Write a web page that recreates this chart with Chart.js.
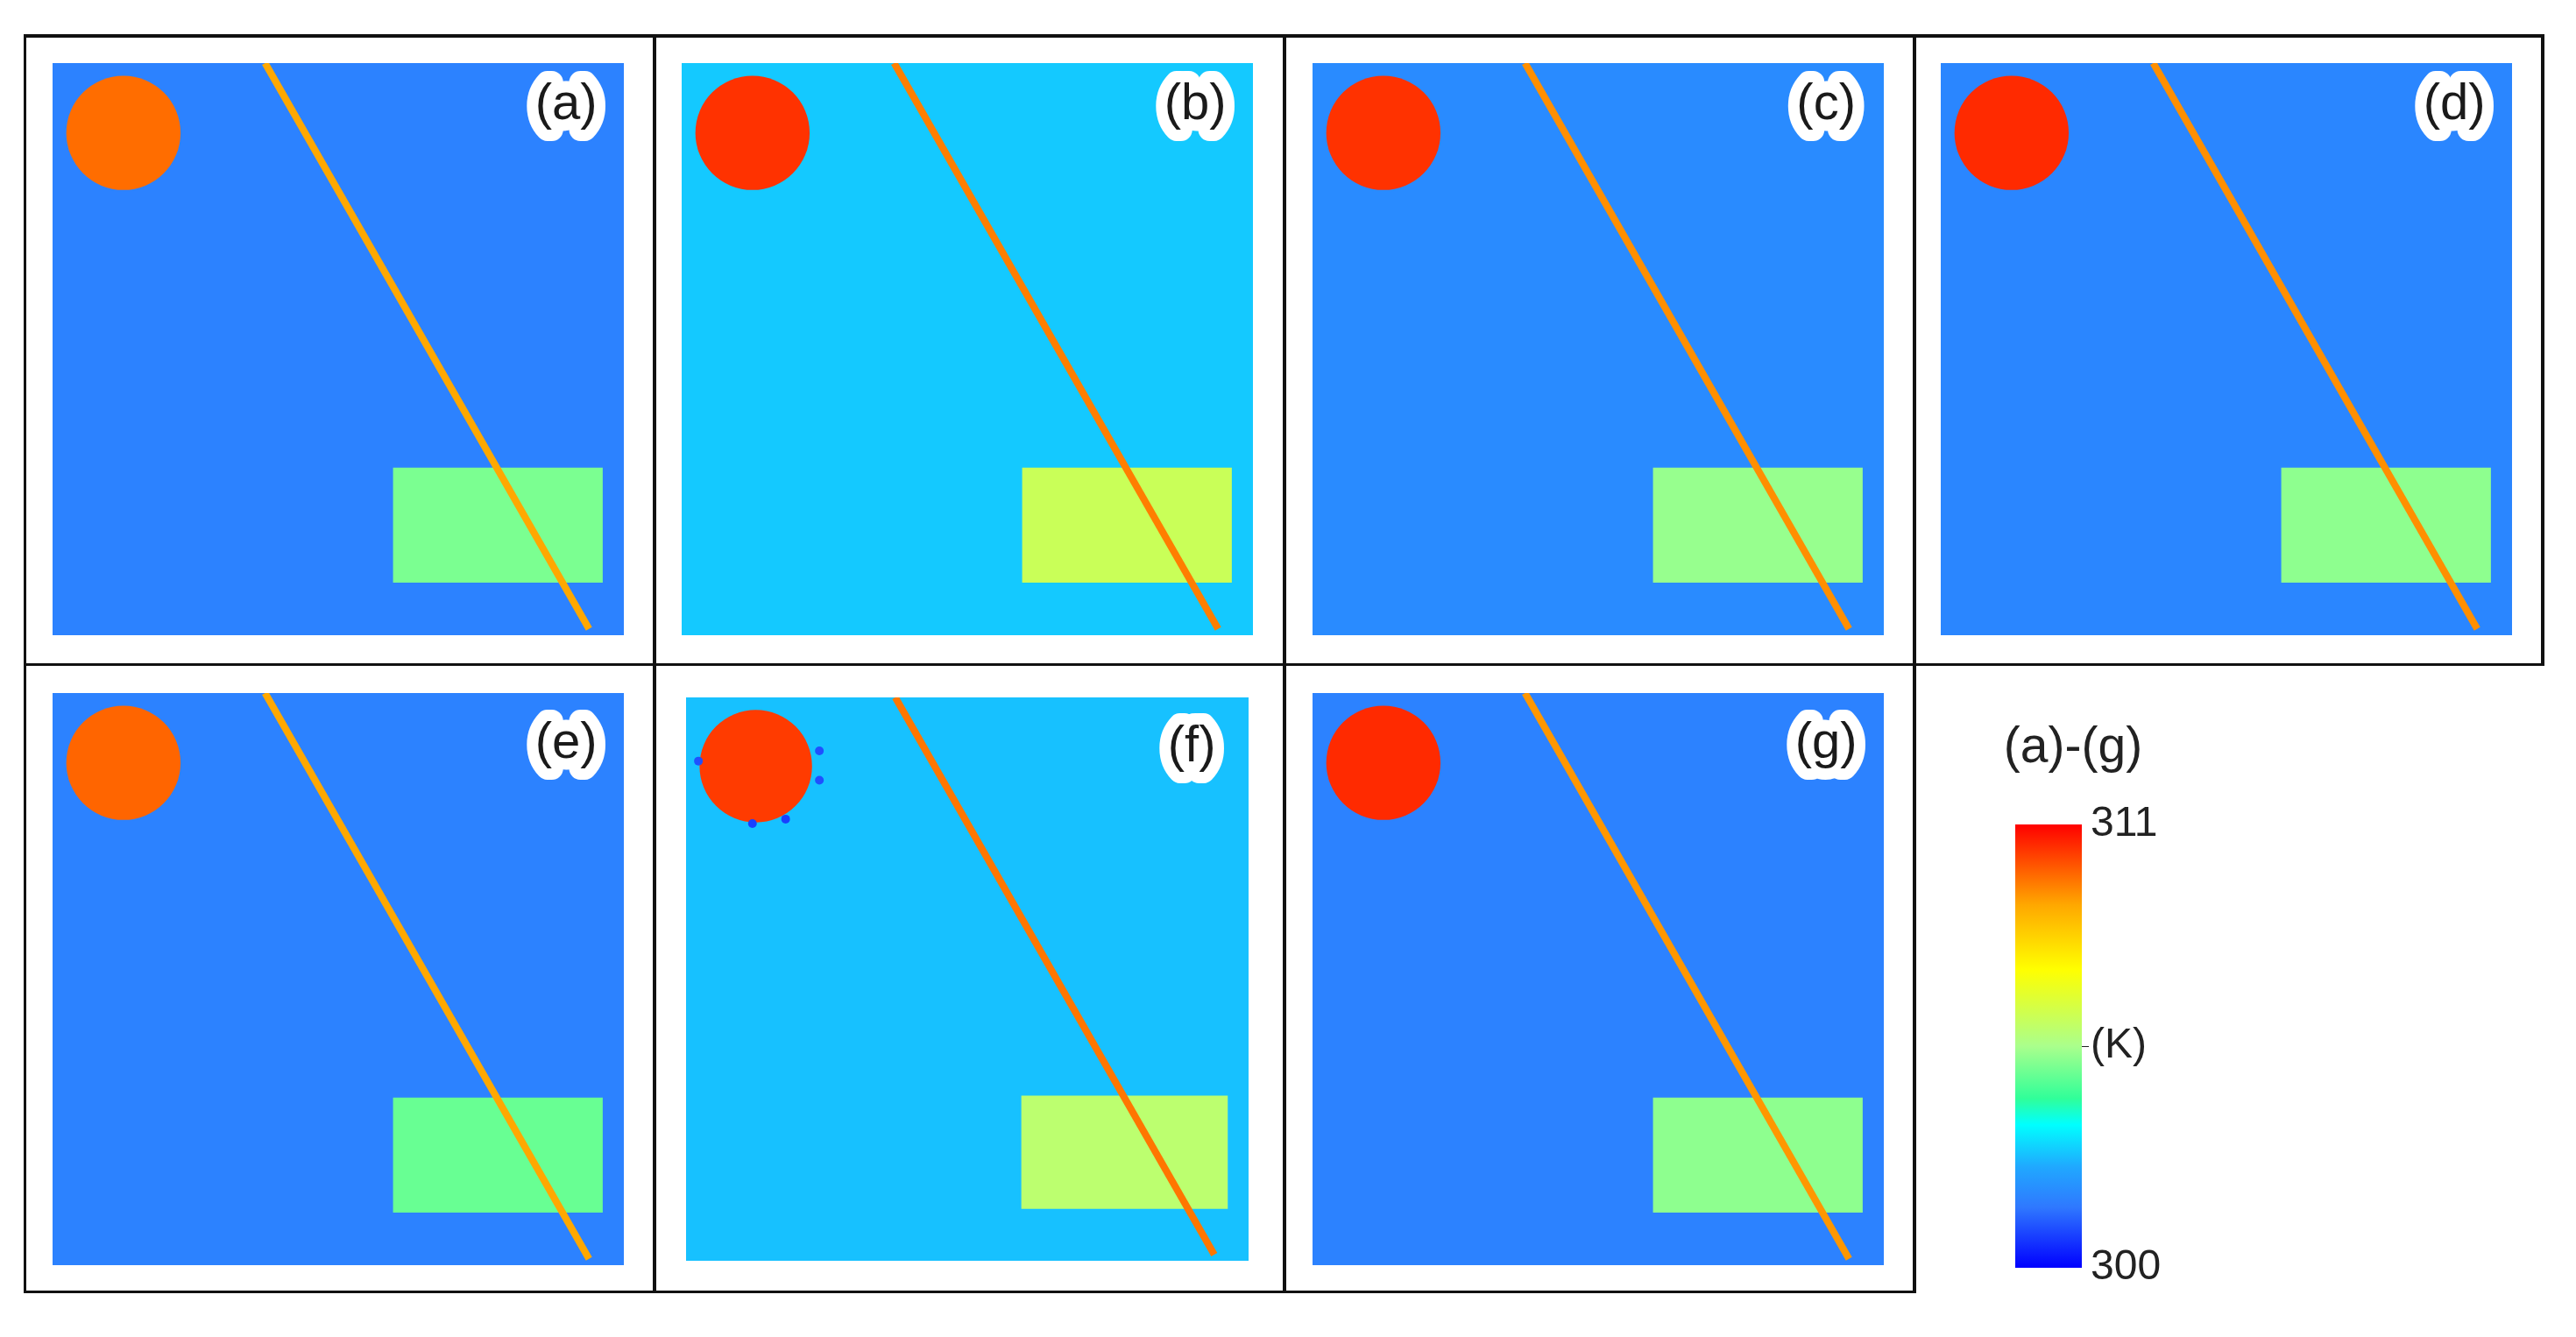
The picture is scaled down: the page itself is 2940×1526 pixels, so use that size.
<!DOCTYPE html>
<html>
<head>
<meta charset="utf-8">
<title>Temperature maps (a)-(g)</title>
<script src="https://cdn.jsdelivr.net/npm/chart.js@4"></script>
<style>
    html, body { margin: 0; background: #fff; }
    body { position: relative; width: 2940px; height: 1526px; overflow: hidden; font-family: "Liberation Sans", Arial, sans-serif; }
    canvas { position: absolute; }
    .rule { position: absolute; background: #111; }
    #cbar-title { position: absolute; left: 2266px; top: 817px; width: 200px; text-align: center; font-size: 57px; line-height: 66px; color: #222; }
</style>
</head>
<body>
<div id="cbar-title">(a)-(g)</div>
<script>
// Values are mean temperatures (K) read per region against the colour bar.
// The pixel speckle of the source maps is not reproduced, it cannot be read value by value.
const panelNames = ['(a)', '(b)', '(c)', '(d)', '(e)', '(f)', '(g)'];
const backgroundK = [301.7, 302.9, 301.9, 301.8, 301.7, 302.8, 301.7];
const rectangleK = [305.0, 306.2, 305.3, 305.2, 304.8, 305.9, 305.2];
const circleK = [309.7, 310.4, 310.4, 310.5, 309.8, 310.3, 310.5];
const stripeK = [309.0, 309.5, 309.3, 309.3, 309.0, 309.6, 309.2];

// shape geometry in percent of the panel, same in every panel
const circleCentre = [12.4, 12.2];
const circleRadius = 10;
const rectangleX = [59.6, 96.3];
const rectangleY = [70.7, 90.8];
const stripeX = [37.2, 93.9];
const stripeY = [0, 98.9];

// dark spots around the circle in panel (f)
const spotX = [11.8, 17.7, 23.7, 23.7, 2.2];
const spotY = [22.4, 21.6, 14.7, 9.5, 11.3];
const spotK = [300.8, 300.8, 301.0, 301.0, 301.0];

// colour bar
const cbarKelvin = [300, 301.5, 302.5, 303.55, 304.2, 305.5, 307.4, 309, 311];
const cbarColors = ['#0000ff', '#2f78ff', '#20a8ff', '#00ffff', '#30ff99', '#aaff8c', '#ffff00', '#ffa800', '#ff0000'];
const cbarTicks = [300, 305.5, 311];
const cbarTickLabels = ['300', '(K)', '311'];

// page layout
const panelLeft = [60, 778, 1498, 2215, 60, 778, 1498];
const panelTop = [72, 72, 72, 72, 791, 791, 791];
const panelWidth = 652;
const panelHeight = 653;
const labelCentreY = [7.4, 7.4, 7.4, 7.4, 8.9, 8.9, 8.9];

function hexToRgb(hex) {
    return [1, 3, 5].map(i => parseInt(hex.slice(i, i + 2), 16));
}

function kelvinToColor(k) {
    let i = 0;
    while (i < cbarKelvin.length - 2 && k > cbarKelvin[i + 1]) i++;
    const f = (k - cbarKelvin[i]) / (cbarKelvin[i + 1] - cbarKelvin[i]);
    const a = hexToRgb(cbarColors[i]);
    const b = hexToRgb(cbarColors[i + 1]);
    return 'rgb(' + a.map((v, n) => Math.round(v + (b[n] - v) * f)).join(',') + ')';
}

function addRule(left, top, width, height) {
    const el = document.createElement('div');
    el.className = 'rule';
    el.style.cssText = `left:${left}px;top:${top}px;width:${width}px;height:${height}px`;
    document.body.appendChild(el);
}

function addCanvas(left, top, width, height) {
    const canvas = document.createElement('canvas');
    canvas.width = width;
    canvas.height = height;
    canvas.style.left = left + 'px';
    canvas.style.top = top + 'px';
    document.body.appendChild(canvas);
    return canvas;
}

// frame lines
addRule(27, 39, 2877, 4);
addRule(27, 757, 2877, 3);
addRule(27, 1473, 2159, 3);
addRule(27, 39, 3, 1437);
addRule(745, 39, 4, 1437);
addRule(1464, 39, 4, 1437);
addRule(2183, 39, 4, 1437);
addRule(2900, 39, 4, 721);

const panelLabelPlugin = {
    id: 'panelLabel',
    afterDatasetsDraw(chart, args, opts) {
        const { ctx, scales } = chart;
        const x = scales.x.getPixelForValue(89.9);
        const y = scales.y.getPixelForValue(opts.y);
        ctx.save();
        ctx.font = '58px "Liberation Sans", Arial, sans-serif';
        ctx.textAlign = 'center';
        ctx.textBaseline = 'middle';
        ctx.lineJoin = 'round';
        ctx.lineWidth = 26;
        ctx.strokeStyle = '#fff';
        ctx.strokeText(opts.text, x, y);
        ctx.fillStyle = '#1a1a1a';
        ctx.fillText(opts.text, x, y);
        ctx.restore();
    }
};

panelNames.forEach((name, i) => {
    const canvas = addCanvas(panelLeft[i], panelTop[i], panelWidth, panelHeight);
    const datasets = [
        {
            data: [{ x: 0, y: 0 }, { x: 100, y: 0 }, { x: 100, y: 100 }, { x: 0, y: 100 }, { x: 0, y: 0 }],
            fill: 'shape', backgroundColor: kelvinToColor(backgroundK[i]), borderWidth: 0, pointRadius: 0, order: 5
        },
        {
            data: [
                { x: rectangleX[0], y: rectangleY[0] }, { x: rectangleX[1], y: rectangleY[0] },
                { x: rectangleX[1], y: rectangleY[1] }, { x: rectangleX[0], y: rectangleY[1] },
                { x: rectangleX[0], y: rectangleY[0] }
            ],
            fill: 'shape', backgroundColor: kelvinToColor(rectangleK[i]), borderWidth: 0, pointRadius: 0, order: 4
        },
        {
            data: [{ x: circleCentre[0], y: circleCentre[1] }],
            showLine: false,
            pointBackgroundColor: kelvinToColor(circleK[i]),
            pointBorderWidth: 0,
            pointRadius: ctx => ctx.chart.scales.x.getPixelForValue(circleRadius) - ctx.chart.scales.x.getPixelForValue(0),
            order: 3
        },
        {
            data: [{ x: stripeX[0], y: stripeY[0] }, { x: stripeX[1], y: stripeY[1] }],
            borderColor: kelvinToColor(stripeK[i]), borderWidth: 8, pointRadius: 0, order: 2
        }
    ];
    if (name === '(f)') {
        datasets.push({
            data: spotX.map((x, n) => ({ x, y: spotY[n] })),
            showLine: false,
            pointBackgroundColor: spotK.map(kelvinToColor),
            pointBorderWidth: 0,
            pointRadius: 5,
            order: 1
        });
    }
    new Chart(canvas, {
        type: 'line',
        data: { datasets },
        plugins: [panelLabelPlugin],
        options: {
            responsive: false,
            animation: false,
            layout: { padding: 0 },
            plugins: {
                legend: { display: false },
                tooltip: { enabled: false },
                panelLabel: { text: name, y: labelCentreY[i] }
            },
            scales: {
                x: { type: 'linear', min: 0, max: 100, display: false },
                y: { type: 'linear', min: 0, max: 100, reverse: true, display: false }
            }
        }
    });
});

// colour bar, a floating bar from 300 to 311 K on a real axis
const cbarCanvas = addCanvas(2280, 900, 240, 590);
new Chart(cbarCanvas, {
    type: 'bar',
    data: {
        labels: ['K'],
        datasets: [{
            data: [[cbarKelvin[0], cbarKelvin[cbarKelvin.length - 1]]],
            barPercentage: 1,
            categoryPercentage: 1,
            backgroundColor: ctx => {
                const { chart } = ctx;
                if (!chart.chartArea) return cbarColors[0];
                const y = chart.scales.y;
                const lo = y.getPixelForValue(cbarKelvin[0]);
                const hi = y.getPixelForValue(cbarKelvin[cbarKelvin.length - 1]);
                const grad = chart.ctx.createLinearGradient(0, lo, 0, hi);
                cbarKelvin.forEach((k, n) => grad.addColorStop((k - cbarKelvin[0]) / (cbarKelvin[cbarKelvin.length - 1] - cbarKelvin[0]), cbarColors[n]));
                return grad;
            }
        }]
    },
    options: {
        responsive: false,
        animation: false,
        layout: { padding: { left: 20, top: 41, bottom: 43, right: 0 } },
        plugins: { legend: { display: false }, tooltip: { enabled: false } },
        scales: {
            x: { display: false },
            y: {
                position: 'right',
                min: cbarKelvin[0],
                max: cbarKelvin[cbarKelvin.length - 1],
                afterBuildTicks: axis => { axis.ticks = cbarTicks.map(value => ({ value })); },
                afterFit: axis => { axis.width = 144; },
                border: { display: false },
                grid: {
                    drawOnChartArea: false,
                    tickLength: 8,
                    tickColor: ctx => (ctx.tick && ctx.tick.value === 305.5 ? '#222' : 'rgba(0,0,0,0)')
                },
                ticks: {
                    padding: 2,
                    color: '#222',
                    font: { family: '"Liberation Sans", Arial, sans-serif', size: 48 },
                    callback: value => cbarTickLabels[cbarTicks.indexOf(value)]
                }
            }
        }
    }
});
</script>
</body>
</html>
